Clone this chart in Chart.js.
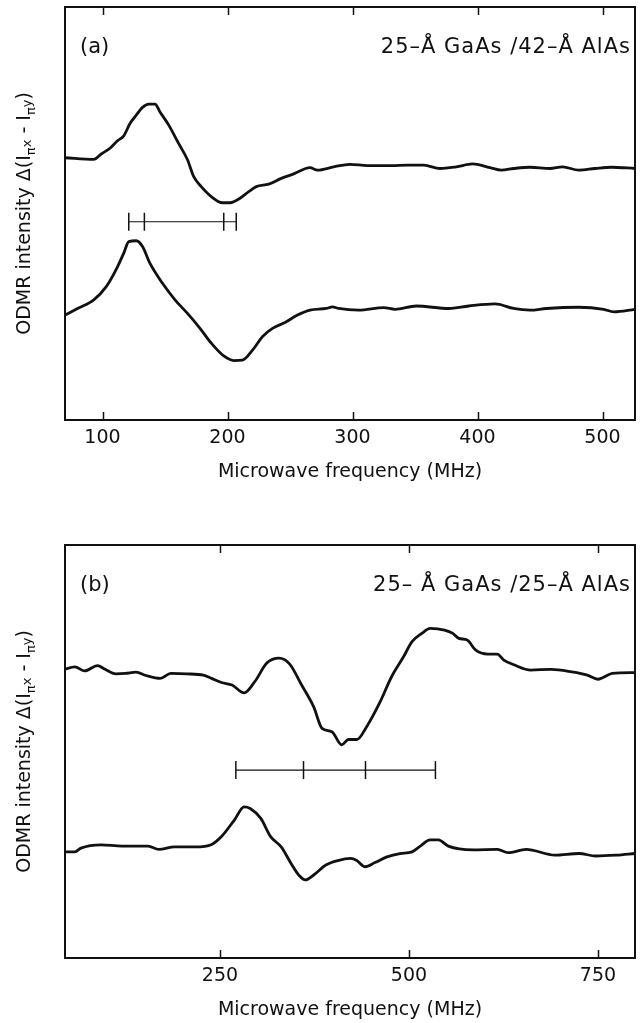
<!DOCTYPE html>
<html>
<head>
<meta charset="utf-8">
<script src="https://cdn.jsdelivr.net/npm/chart.js@4.4.1/dist/chart.umd.min.js"></script>
<style>
  html, body { margin: 0; padding: 0; background: #fff; }
  canvas { display: block; }
</style>
</head>
<body>
<canvas id="chartA" width="640" height="500"></canvas>
<canvas id="chartB" width="640" height="523"></canvas>
<script>
// panel (a): 25-A GaAs / 42-A AlAs
const freqATop = [70, 93, 99, 106, 112, 117, 122, 127, 132, 137, 142, 146, 153, 161, 168, 173, 179, 187, 196, 202, 210, 217, 223, 233, 243, 253, 266, 272, 285, 298, 312, 331, 344, 357, 370, 383, 396, 410, 419, 429, 442, 458, 468, 481, 494, 507, 526];
const sigATop = [63.5, 63.1, 64.4, 65.8, 67.6, 68.8, 71.8, 73.8, 75.7, 76.5, 76.5, 74.6, 71.4, 66.9, 63.0, 58.9, 56.5, 54.1, 52.6, 52.6, 53.7, 55.3, 56.5, 57.1, 58.5, 59.6, 61.1, 60.5, 61.3, 61.9, 61.6, 61.6, 61.7, 61.7, 60.9, 61.3, 62.0, 61.1, 60.5, 60.9, 61.2, 60.9, 61.3, 60.5, 60.9, 61.2, 60.9];
const freqABot = [70, 80, 93, 103, 112, 117, 121, 127, 132, 138, 148, 158, 168, 178, 187, 197, 205, 212, 220, 228, 236, 246, 256, 266, 279, 284, 289, 305, 325, 334, 351, 377, 393, 414, 429, 442, 455, 481, 501, 509, 526];
const sigABot = [25.4, 27.0, 29.1, 32.3, 37.1, 40.4, 43.2, 43.4, 42.0, 37.9, 33.1, 29.1, 25.8, 22.2, 18.6, 15.5, 14.4, 14.5, 16.9, 20.2, 22.2, 23.6, 25.4, 26.6, 27.0, 27.4, 27.0, 26.6, 27.2, 26.8, 27.6, 27.0, 27.6, 28.1, 27.0, 26.6, 27.0, 27.3, 26.8, 26.2, 26.8];
const markA = [121, 133.5, 197, 207];
const markALevel = 48;
const ticksA = [100, 200, 300, 400, 500];

// panel (b): 25-A GaAs / 25-A AlAs
const freqBTop = [44, 58, 71, 88, 98, 112, 125, 139, 152, 171, 185, 206, 228, 239, 252, 266, 282, 296, 312, 328, 342, 358, 374, 385, 398, 411, 420, 431, 444, 461, 477, 493, 504, 517, 528, 547, 558, 566, 577, 588, 604, 617, 625, 639, 661, 688, 715, 736, 750, 769, 799];
const sigBTop = [69.9, 70.5, 69.5, 70.8, 69.9, 68.8, 68.9, 69.2, 68.4, 67.7, 68.9, 68.8, 68.5, 67.7, 66.7, 66.1, 64.2, 66.9, 71.4, 72.6, 71.2, 66.1, 60.8, 55.6, 54.8, 51.6, 52.9, 52.9, 56.0, 61.7, 68.1, 73.0, 76.6, 78.6, 79.8, 79.4, 78.6, 77.4, 77.0, 74.6, 73.6, 73.6, 72.2, 71.0, 69.7, 69.9, 69.3, 68.5, 67.5, 68.9, 69.1];
const freqBBot = [44, 58, 66, 93, 120, 142, 155, 169, 190, 217, 239, 252, 269, 282, 290, 304, 317, 331, 344, 355, 363, 374, 390, 406, 423, 431, 442, 455, 471, 488, 504, 515, 528, 539, 552, 585, 617, 631, 655, 693, 725, 747, 774, 799];
const sigBBot = [25.7, 25.7, 26.6, 27.4, 27.1, 27.1, 27.1, 26.3, 26.9, 26.9, 27.5, 29.4, 33.4, 36.6, 36.2, 33.8, 29.4, 26.9, 22.9, 19.9, 18.9, 20.1, 22.5, 23.6, 24.1, 23.6, 22.1, 23.1, 24.5, 25.3, 25.7, 27.1, 28.6, 28.6, 27.1, 26.2, 26.3, 25.5, 26.3, 24.9, 25.3, 24.7, 24.9, 25.3];
const markB = [271, 360.5, 442.5, 535];
const markBLevel = 45.5;
const ticksB = [250, 500, 750];

const INK = '#111';
const FONT = '"DejaVu Sans", Verdana, sans-serif';
Chart.defaults.font.family = FONT;
Chart.defaults.color = INK;

function toPoints(xs, ys) {
    return xs.map((x, i) => ({ x: x, y: ys[i] }));
}

// frame, inward ticks, panel labels and the rotated y title
const framePlugin = {
    id: 'frame',
    afterDraw(chart, args, opts) {
        const ctx = chart.ctx;
        const a = chart.chartArea;
        const xs = chart.scales.x;
        ctx.save();
        ctx.strokeStyle = INK;
        ctx.lineWidth = 2;
        ctx.strokeRect(a.left, a.top, a.right - a.left, a.bottom - a.top);
        ctx.lineWidth = 1.5;
        xs.ticks.forEach(t => {
            const px = Math.round(xs.getPixelForValue(t.value)) + 0.5;
            ctx.beginPath();
            ctx.moveTo(px, a.bottom);
            ctx.lineTo(px, a.bottom - 8);
            ctx.moveTo(px, a.top);
            ctx.lineTo(px, a.top + 8);
            ctx.stroke();
        });

        ctx.fillStyle = INK;
        ctx.font = '21px ' + FONT;
        ctx.textBaseline = 'middle';
        ctx.textAlign = 'left';
        ctx.fillText(opts.panel, a.left + 15, a.top + 41);
        ctx.textAlign = 'right';
        ctx.letterSpacing = '1px';
        ctx.fillText(opts.sample, a.right - 4, a.top + 41);
        ctx.letterSpacing = '0px';

        // y title with subscripts
        const parts = [
            { t: 'ODMR intensity \u0394(I', size: 19, dy: 0 },
            { t: '\u03c0', size: 13, dy: 5 },
            { t: 'x', size: 13, dy: 1 },
            { t: ' - I', size: 19, dy: 0 },
            { t: '\u03c0', size: 13, dy: 5 },
            { t: 'y', size: 13, dy: 1 },
            { t: ')', size: 19, dy: 0 }
        ];
        let total = 0;
        parts.forEach(p => {
            ctx.font = p.size + 'px ' + FONT;
            p.w = ctx.measureText(p.t).width;
            total += p.w;
        });
        const cy = (a.top + a.bottom) / 2;
        ctx.translate(30, cy);
        ctx.rotate(-Math.PI / 2);
        ctx.textAlign = 'left';
        ctx.textBaseline = 'alphabetic';
        let x = -total / 2;
        parts.forEach(p => {
            ctx.font = p.size + 'px ' + FONT;
            ctx.fillText(p.t, x, p.dy);
            x += p.w;
        });
        ctx.restore();
    }
};

function makePanel(canvasId, cfg) {
    const ctx = document.getElementById(canvasId).getContext('2d');
    const curve = {
        borderColor: INK,
        borderWidth: 2.8,
        pointRadius: 0,
        fill: false,
        cubicInterpolationMode: 'monotone'
    };
    return new Chart(ctx, {
        type: 'line',
        data: {
            datasets: [
                Object.assign({ data: toPoints(cfg.topX, cfg.topY) }, curve),
                Object.assign({ data: toPoints(cfg.botX, cfg.botY) }, curve),
                {
                    data: cfg.marks.map(m => ({ x: m, y: cfg.markLevel })),
                    borderColor: INK,
                    borderWidth: 1.2,
                    pointStyle: 'line',
                    rotation: 90,
                    pointRadius: 9,
                    pointBorderWidth: 1.5,
                    pointBorderColor: INK,
                    tension: 0,
                    fill: false
                }
            ]
        },
        options: {
            responsive: false,
            animation: false,
            layout: { autoPadding: false, padding: { left: 65, right: 5, top: cfg.padTop, bottom: 0 } },
            plugins: {
                legend: { display: false },
                tooltip: { enabled: false },
                frame: { panel: cfg.panel, sample: cfg.sample }
            },
            scales: {
                x: {
                    type: 'linear',
                    min: cfg.xmin,
                    max: cfg.xmax,
                    afterBuildTicks: s => { s.ticks = cfg.ticks.map(v => ({ value: v })); },
                    afterFit: s => {
                        s.height = cfg.axisHeight;
                        s.paddingLeft = 0;
                        s.paddingRight = 0;
                    },
                    grid: { display: false, drawTicks: false },
                    border: { display: false },
                    ticks: { font: { size: 19 }, padding: 7, color: INK },
                    title: {
                        display: true,
                        text: 'Microwave frequency (MHz)',
                        font: { size: 19 },
                        color: INK,
                        padding: { top: 0, bottom: cfg.titleGap }
                    }
                },
                y: { display: false, min: 0, max: 100 }
            }
        },
        plugins: [framePlugin]
    });
}

makePanel('chartA', {
    topX: freqATop, topY: sigATop, botX: freqABot, botY: sigABot,
    marks: markA, markLevel: markALevel, ticks: ticksA,
    xmin: 70, xmax: 526, padTop: 7, axisHeight: 80, titleGap: 16.6,
    panel: '(a)', sample: '25\u2013\u00c5 GaAs /42\u2013\u00c5 AlAs'
});

makePanel('chartB', {
    topX: freqBTop, topY: sigBTop, botX: freqBBot, botY: sigBBot,
    marks: markB, markLevel: markBLevel, ticks: ticksB,
    xmin: 45, xmax: 799, padTop: 45, axisHeight: 65, titleGap: 1.6,
    panel: '(b)', sample: '25\u2013 \u00c5 GaAs /25\u2013\u00c5 AlAs'
});
</script>
</body>
</html>
